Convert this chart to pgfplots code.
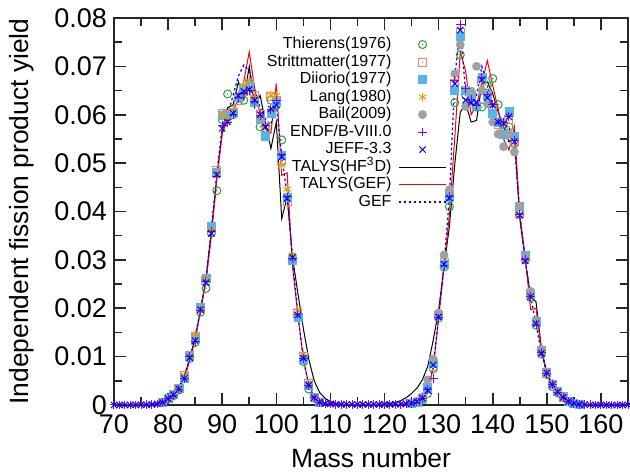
\documentclass[border=0pt]{standalone}
\usepackage{fontspec}
\setmainfont{Liberation Sans}
\usepackage{pgfplots}
\usepackage{pgfplotstable}
\pgfplotsset{compat=1.18}

\definecolor{cThi}{RGB}{40,160,60}
\definecolor{cStr}{RGB}{240,128,96}
\definecolor{cDii}{RGB}{86,180,233}
\definecolor{cLan}{RGB}{230,159,0}
\definecolor{cBai}{RGB}{160,160,160}
\definecolor{cEnd}{RGB}{148,0,211}
\definecolor{cJef}{RGB}{0,0,255}

\pgfdeclareplotmark{odot}{%
  \pgfpathcircle{\pgfpointorigin}{\pgfplotmarksize}\pgfusepathqstroke
  \pgfpathcircle{\pgfpointorigin}{0.4pt}\pgfusepathqfill}
\pgfdeclareplotmark{sqdot}{%
  \pgfpathrectangle{\pgfpoint{-\pgfplotmarksize}{-\pgfplotmarksize}}{\pgfpoint{2\pgfplotmarksize}{2\pgfplotmarksize}}\pgfusepathqstroke
  \pgfpathcircle{\pgfpointorigin}{0.4pt}\pgfusepathqfill}

\pgfplotstableread{
A Y
70 0.0
71 0.0
72 0.00001
73 0.00001
74 0.00002
75 0.00003
76 0.00005
77 0.00008
78 0.00021
79 0.00045
80 0.00126
81 0.0020
82 0.0033
83 0.0054
84 0.0100
85 0.0131
86 0.0196
87 0.0255
88 0.0358
89 0.0473
90 0.0578
91 0.0583
92 0.0600
93 0.0636
94 0.0643
95 0.0650
96 0.0627
97 0.0599
98 0.0578
99 0.0611
100 0.0629
101 0.0518
102 0.0430
103 0.0303
104 0.0188
105 0.0096
106 0.0040
107 0.00146
108 0.00054
109 0.00031
110 0.00027
111 0.00018
112 0.00013
113 0.00014
114 0.00012
115 0.00011
116 0.00011
117 0.00011
118 0.00011
119 0.00011
120 0.00012
121 0.00013
122 0.00014
123 0.00016
124 0.00027
125 0.00034
126 0.0006
127 0.0013
128 0.0032
129 0.0055
130 0.0180
131 0.0289
132 0.0431
133 0.0670
134 0.0787
135 0.0654
136 0.0631
137 0.0619
138 0.0677
139 0.0641
140 0.0622
141 0.0585
142 0.0584
143 0.0596
144 0.0547
145 0.0393
146 0.0300
147 0.0225
148 0.0167
149 0.0108
150 0.00653
151 0.00419
152 0.00267
153 0.00158
154 0.00074
155 0.00032
156 0.00015
157 0.00006
158 0.00003
159 0.00001
160 0.0
161 0.0
162 0.0
163 0.0
164 0.0
165 0.0
}\tEndf

\pgfplotstableread{
A Y
70 0.0
71 0.0
72 0.00001
73 0.00001
74 0.00002
75 0.00003
76 0.00005
77 0.0001
78 0.00025
79 0.0005
80 0.0013
81 0.0021
82 0.0033
83 0.0055
84 0.0098
85 0.0133
86 0.0197
87 0.0253
88 0.0355
89 0.0476
90 0.0572
91 0.0585
92 0.0603
93 0.0640
94 0.0648
95 0.0652
96 0.0630
97 0.0600
98 0.0575
99 0.0612
100 0.0620
101 0.0513
102 0.0427
103 0.0305
104 0.0186
105 0.0097
106 0.0041
107 0.0015
108 0.00055
109 0.0003
110 0.00025
111 0.00018
112 0.00013
113 0.00013
114 0.00012
115 0.00011
116 0.00011
117 0.00011
118 0.00011
119 0.00011
120 0.00012
121 0.00013
122 0.00015
123 0.00018
124 0.00028
125 0.00035
126 0.0007
127 0.0014
128 0.0030
129 0.0083
130 0.0182
131 0.0291
132 0.0428
133 0.0664
134 0.0775
135 0.0630
136 0.0625
137 0.0625
138 0.0672
139 0.0635
140 0.0620
141 0.0585
142 0.0582
143 0.0596
144 0.0545
145 0.0392
146 0.0298
147 0.0224
148 0.0168
149 0.0107
150 0.0066
151 0.0042
152 0.0027
153 0.0016
154 0.00075
155 0.00033
156 0.00015
157 0.00006
158 0.00003
159 0.00001
160 0.0
161 0.0
162 0.0
163 0.0
164 0.0
165 0.0
}\tJeff

\pgfplotstableread{
A Y
80 0.0012
81 0.0019
82 0.0031
83 0.0055
84 0.0096
85 0.0129
86 0.0192
87 0.0241
88 0.0355
89 0.0443
90 0.0590
91 0.0643
92 0.0600
93 0.0634
94 0.0630
95 0.0660
96 0.0630
97 0.0575
98 0.0572
99 0.0630
100 0.0620
101 0.0548
102 0.0430
103 0.0306
104 0.0180
105 0.0090
106 0.0033
107 0.0014
125 0.0003
126 0.0005
127 0.0010
128 0.0024
129 0.0075
130 0.0180
131 0.0285
132 0.0410
133 0.0625
134 0.0724
135 0.0640
136 0.0630
137 0.0616
138 0.0616
139 0.0660
140 0.0675
141 0.0621
142 0.0580
143 0.0575
144 0.0540
145 0.0395
146 0.0300
147 0.0222
148 0.0165
149 0.0105
150 0.0063
151 0.0038
152 0.0025
153 0.0015
154 0.0007
155 0.0003
}\tThi

\pgfplotstableread{
A Y
80 0.0013
81 0.0021
82 0.0034
83 0.0060
84 0.0103
85 0.0142
86 0.0200
87 0.0258
88 0.0365
89 0.0485
90 0.0603
91 0.0600
92 0.0605
93 0.0630
94 0.0648
95 0.0665
96 0.0640
97 0.0600
98 0.0570
99 0.0638
100 0.0630
101 0.0505
102 0.0420
103 0.0300
104 0.0190
105 0.0100
106 0.0045
107 0.0016
128 0.0035
129 0.0080
130 0.0185
131 0.0295
132 0.0435
133 0.0665
134 0.0770
135 0.0650
136 0.0625
137 0.0620
138 0.0670
139 0.0640
140 0.0615
141 0.0580
142 0.0575
143 0.0590
144 0.0545
145 0.0395
146 0.0305
147 0.0228
148 0.0170
149 0.0110
150 0.0066
151 0.0042
152 0.0027
153 0.0016
}\tStr

\pgfplotstableread{
A Y
79 0.0005
80 0.0013
81 0.0021
82 0.0034
83 0.0056
84 0.0101
85 0.0137
86 0.0202
87 0.0262
88 0.0370
89 0.0480
90 0.0598
91 0.0598
92 0.0605
93 0.0636
94 0.0655
95 0.0660
96 0.0625
97 0.0590
98 0.0555
99 0.0603
100 0.0625
101 0.0515
102 0.0430
103 0.0298
104 0.0182
105 0.0095
106 0.0040
107 0.0015
108 0.0006
125 0.0003
126 0.0006
127 0.0014
128 0.0037
129 0.0085
130 0.0185
131 0.0290
132 0.0430
133 0.0650
134 0.0761
135 0.0650
136 0.0640
137 0.0620
138 0.0678
139 0.0640
140 0.0603
141 0.0585
142 0.0560
143 0.0606
144 0.0556
145 0.0410
146 0.0310
147 0.0230
148 0.0172
149 0.0112
150 0.0068
151 0.0043
152 0.0028
153 0.0017
154 0.0008
155 0.0004
156 0.0002
}\tDii

\pgfplotstableread{
A Y
80 0.0013
81 0.0022
82 0.0035
83 0.0062
84 0.0102
85 0.0145
86 0.0200
87 0.0260
88 0.0362
89 0.0480
90 0.0600
91 0.0590
92 0.0610
93 0.0640
94 0.0660
95 0.0670
96 0.0635
97 0.0595
98 0.0580
99 0.0640
100 0.0640
101 0.0496
102 0.0446
103 0.0310
104 0.0195
105 0.0105
106 0.0045
107 0.0016
108 0.0006
}\tLan

\pgfplotstableread{
A Y
126 0.0008
127 0.0017
128 0.0052
129 0.0095
130 0.0190
131 0.0310
132 0.0445
133 0.0685
134 0.0745
135 0.0617
136 0.0649
137 0.0700
138 0.0650
139 0.0623
140 0.0585
141 0.0560
142 0.0534
143 0.0560
144 0.0523
145 0.0410
146 0.0305
147 0.0235
148 0.0175
149 0.0115
150 0.0068
151 0.0044
152 0.0028
153 0.0017
}\tBai

\pgfplotstableread{
A Y
70 0
72 0
74 0.00002
76 0.0001
77 0.0002
78 0.0004
79 0.0008
80 0.0014
81 0.0023
82 0.0037
83 0.0060
84 0.0095
85 0.0140
86 0.0195
87 0.0262
88 0.0360
89 0.0470
90 0.0565
91 0.0615
92 0.0620
93 0.0668
94 0.0632
95 0.0700
96 0.0615
97 0.0640
98 0.0585
99 0.0530
100 0.0585
101 0.0385
102 0.0430
103 0.0305
104 0.0230
105 0.0158
106 0.0095
107 0.0050
108 0.0026
109 0.0014
110 0.0007
111 0.0003
112 0.0002
113 0.0001
118 0.0001
119 0.0001
120 0.0002
121 0.0003
122 0.0005
123 0.0009
124 0.0015
125 0.0024
126 0.0035
127 0.0052
128 0.0080
129 0.0134
130 0.0196
131 0.0286
132 0.0370
133 0.0500
134 0.0605
135 0.0623
136 0.0585
137 0.0588
138 0.0665
139 0.0668
140 0.0644
141 0.0606
142 0.0575
143 0.0544
144 0.0555
145 0.0385
146 0.0300
147 0.0224
148 0.0213
149 0.0117
150 0.0066
151 0.0040
152 0.0024
153 0.0015
154 0.0009
155 0.0005
156 0.0003
157 0.0001
158 0
165 0
}\tHF

\pgfplotstableread{
A Y
70 0
74 0
76 0.00005
77 0.0001
78 0.0003
79 0.0007
80 0.0013
81 0.0021
82 0.0033
83 0.0055
84 0.0092
85 0.0135
86 0.0195
87 0.0255
88 0.0350
89 0.0465
90 0.0560
91 0.0590
92 0.0610
93 0.0630
94 0.0670
95 0.0730
96 0.0655
97 0.0600
98 0.0570
99 0.0562
100 0.0665
101 0.0475
102 0.0480
103 0.0285
104 0.0185
105 0.0095
106 0.0042
107 0.0015
108 0.0005
109 0.0002
110 0.0001
124 0.0001
125 0.0002
126 0.0005
127 0.0012
128 0.0030
129 0.0075
130 0.0180
131 0.0285
132 0.0395
133 0.0555
134 0.0730
135 0.0690
136 0.0600
137 0.0620
138 0.0665
139 0.0712
140 0.0660
141 0.0612
142 0.0550
143 0.0527
144 0.0575
145 0.0395
146 0.0305
147 0.0197
148 0.0200
149 0.0112
150 0.0063
151 0.0040
152 0.0025
153 0.0014
154 0.0007
155 0.0003
156 0.0001
157 0
165 0
}\tTG

\pgfplotstableread{
A Y
70 0
75 0.00003
77 0.0001
78 0.0003
79 0.0006
80 0.0013
81 0.0021
82 0.0034
83 0.0057
84 0.0098
85 0.0138
86 0.0200
87 0.0260
88 0.0365
89 0.0480
90 0.0575
91 0.0600
92 0.0640
93 0.0680
94 0.0703
95 0.0690
96 0.0650
97 0.0615
98 0.0590
99 0.0580
100 0.0622
101 0.0513
102 0.0435
103 0.0300
104 0.0185
105 0.0095
106 0.0040
107 0.0015
108 0.0005
109 0.0002
110 0.0001
124 0.0001
125 0.0002
126 0.0005
127 0.0013
128 0.0035
129 0.0080
130 0.0182
131 0.0292
132 0.0430
133 0.0680
134 0.0778
135 0.0645
136 0.0620
137 0.0640
138 0.0700
139 0.0660
140 0.0620
141 0.0590
142 0.0580
143 0.0575
144 0.0540
145 0.0395
146 0.0300
147 0.0225
148 0.0167
149 0.0108
150 0.0065
151 0.0042
152 0.0027
153 0.0016
154 0.0008
155 0.0003
156 0.0001
157 0
165 0
}\tGEF

\begin{document}
\begin{tikzpicture}
\useasboundingbox (-57pt,-35pt) rectangle (258pt,202.5pt);
\begin{axis}[
  at={(0pt,0pt)}, anchor=south west,
  scale only axis, width=257pt, height=193.5pt,
  xmin=70, xmax=165, ymin=0, ymax=0.08,
  xtick={70,80,...,160}, minor x tick num=1,
  ytick={0,0.01,...,0.08}, minor y tick num=1,
  yticklabels={0,0.01,0.02,0.03,0.04,0.05,0.06,0.07,0.08},
  scaled y ticks=false,
  /pgf/number format/assume math mode=true,
  tick label style={font=\fontsize{13.5}{15}\selectfont},
  xticklabel style={yshift=-1.5pt},
  label style={font=\fontsize{13.2}{15}\selectfont},
  xlabel={Mass number},
  ylabel={Independent fission product yield},
  xlabel style={at={(axis description cs:0.5,-0.137)}, anchor=center},
  ylabel style={at={(axis description cs:-0.179,0.5)}, anchor=center, rotate=0},
  axis line style={line width=0.9pt, black!85},
  major tick length=6pt, minor tick length=4pt,
  every tick/.style={line width=0.8pt, black!85},
  clip=false,
  legend plot pos=right,
  legend cell align=right,
  legend image code/.code={\draw[mark repeat=2,mark phase=2,#1] plot coordinates {(0pt,0pt) (11.75pt,0pt) (23.5pt,0pt)};},
  legend style={draw=none, fill=none, inner sep=0pt,
    at={(0.648,0.955)}, anchor=north east,
    font=\fontsize{8}{9}\selectfont,
    nodes={inner sep=0.5pt, text height=6pt, text depth=1.75pt},
    row sep=0pt,
    /tikz/every odd column/.append style={column sep=3pt}},
]
\addplot[only marks, mark=odot, mark size=2pt, color=cThi, line width=0.5pt] table[x=A,y=Y] {\tThi};
\addlegendentry{Thierens(1976)}
\addplot[only marks, mark=sqdot, mark size=2pt, color=cStr, line width=0.5pt] table[x=A,y=Y] {\tStr};
\addlegendentry{Strittmatter(1977)}
\addplot[only marks, mark=square*, mark size=2pt, color=cDii, fill=cDii] table[x=A,y=Y] {\tDii};
\addlegendentry{Diiorio(1977)}
\addplot[only marks, mark=asterisk, mark size=2.2pt, color=cLan, line width=0.5pt] table[x=A,y=Y] {\tLan};
\addlegendentry{Lang(1980)}
\addplot[only marks, mark=*, mark size=2pt, color=cBai, fill=cBai] table[x=A,y=Y] {\tBai};
\addlegendentry{Bail(2009)}
\addplot[only marks, mark=+, mark size=2.2pt, color=cEnd, line width=0.5pt] table[x=A,y=Y] {\tEndf};
\addlegendentry{ENDF/B-VIII.0}
\addplot[only marks, mark=x, mark size=2.2pt, color=cJef, line width=0.5pt] table[x=A,y=Y] {\tJeff};
\addlegendentry{JEFF-3.3}
\addplot[no marks, black, line width=0.5pt] table[x=A,y=Y] {\tHF};
\addlegendentry{TALYS(HF\textsuperscript{3}D)}
\addplot[no marks, red, line width=0.5pt] table[x=A,y=Y] {\tTG};
\addlegendentry{TALYS(GEF)}
\addplot[no marks, blue, line width=0.6pt, dash pattern=on 1.2pt off 1.3pt] table[x=A,y=Y] {\tGEF};
\addlegendentry{GEF}
\end{axis}
\end{tikzpicture}
\end{document}
